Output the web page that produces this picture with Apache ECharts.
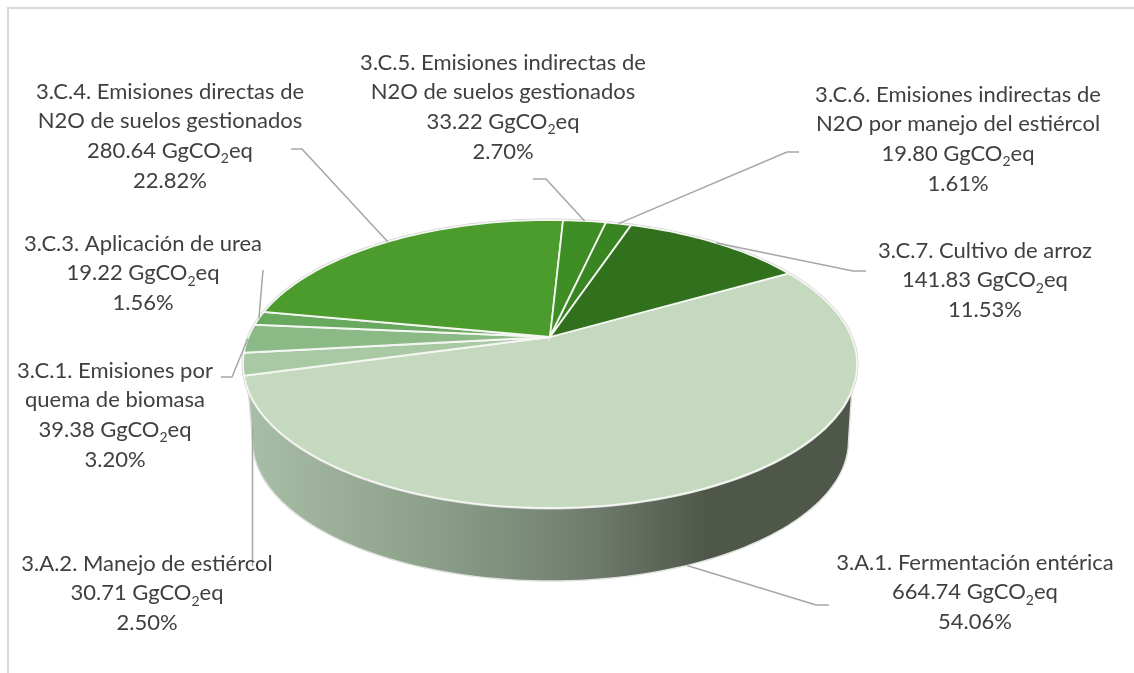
<!DOCTYPE html>
<html>
<head>
<meta charset="utf-8">
<style>html,body{margin:0;padding:0;background:#fff}#main{width:1134px;height:673px}</style>
<script src="https://cdn.jsdelivr.net/npm/echarts@6/dist/echarts.min.js"></script>
</head>
<body>
<div id="main"></div>
<script>
var categories = [
    ['3.A.1. Fermentación entérica'],
    ['3.A.2. Manejo de estiércol'],
    ['3.C.1. Emisiones por', 'quema de biomasa'],
    ['3.C.3. Aplicación de urea'],
    ['3.C.4. Emisiones directas de', 'N2O de suelos gestionados'],
    ['3.C.5. Emisiones indirectas de', 'N2O de suelos gestionados'],
    ['3.C.6. Emisiones indirectas de', 'N2O por manejo del estiércol'],
    ['3.C.7. Cultivo de arroz']
];
var emissions = [664.74, 30.71, 39.38, 19.22, 280.64, 33.22, 19.80, 141.83];
var shares = ['54.06%', '2.50%', '3.20%', '1.56%', '22.82%', '2.70%', '1.61%', '11.53%'];

var colors = ['#c5d9bf', '#a9c8a4', '#8cba86', '#68a85f', '#4b9c2c', '#3f8e25', '#388522', '#31711d'];
// label block: centre x, top y of first line; leader: elbow points from label towards pie
var labelPos = [[975, 548], [147, 549], [115, 356], [143, 229], [170, 77], [503, 48], [958, 80], [985, 236]];
var leaders = [
    [[829, 605], [816, 605]],
    [[252.5, 566]],
    [[221, 377], [232, 377]],
    [[263, 270]],
    [[291, 149], [302, 149]],
    [[533, 179], [546, 179]],
    [[799, 152], [787, 152]],
    [[866, 271], [853, 271]]
];
// anchors on the lower rim for slices whose leader leaves from the wall
var anchorOnBase = [true, true, false, false, false, false, false, false];
var anchorLift = [0, 16, 0, 0, 0, 0, 0, 0];

var START = 60;
var top3d = { cx: 550, cy: 364, rx: 307, ry: 144 };
var base3d = { cx: 550.5, cy: 441, rx: 298, ry: 140 };
var PERSP = 0.1875;
var LINE_H = 29.6;

var total = emissions.reduce(function (a, b) { return a + b; }, 0);

function sliceAngles(i) {
    var before = 0;
    for (var k = 0; k < i; k++) before += emissions[k];
    return [START + before / total * 360, START + (before + emissions[i]) / total * 360];
}

// circle -> perspective ellipse, centre of the pie sits above the middle of the ellipse
function project(e, deg) {
    var r = deg * Math.PI / 180;
    var u = Math.sin(r), v = Math.cos(r);
    var d = 1 + PERSP * v;
    var X = u * Math.sqrt(1 - PERSP * PERSP) / d;
    var Y = (v + PERSP) / d;
    return [e.cx + e.rx * X, e.cy - e.ry * Y];
}

function arc(e, a0, a1) {
    var pts = [], n = Math.max(2, Math.ceil(Math.abs(a1 - a0) / 1.5));
    for (var i = 0; i <= n; i++) pts.push(project(e, a0 + (a1 - a0) * i / n));
    return pts;
}

function renderSlice(params, api) {
    var i = params.dataIndex;
    var ang = sliceAngles(i);
    var children = [];
    if (i === 0) {
        // rim and wall go under all the top faces
        children.push({
            type: 'polygon',
            shape: { points: arc(top3d, 111, 249).concat(arc(base3d, 259, 101)) },
            style: {
                fill: new echarts.graphic.LinearGradient(0, 0, 1, 0, [
                    { offset: 0, color: '#a9bea6' },
                    { offset: 0.35, color: '#879a85' },
                    { offset: 0.55, color: '#727f70' },
                    { offset: 0.76, color: '#4f574a' },
                    { offset: 1, color: '#4f574a' }
                ], false),
                stroke: '#dfe1dd',
                lineWidth: 1.4
            }
        });
        children.push({
            type: 'polygon',
            shape: { points: arc(top3d, 0, 360) },
            style: { fill: 'none', stroke: '#cfcfcf', lineWidth: 3 }
        });
    }
    var apex = [top3d.cx, top3d.cy - top3d.ry * PERSP];
    children.push({
        type: 'polygon',
        shape: { points: [apex].concat(arc(top3d, ang[0], ang[1])) },
        style: { fill: colors[i], stroke: '#f4f6f2', lineWidth: 1.8 }
    });
    return { type: 'group', children: children };
}

function renderLabel(params, api) {
    var i = params.dataIndex;
    var ang = sliceAngles(i);
    var mid = (ang[0] + ang[1]) / 2;
    var anchor = project(anchorOnBase[i] ? base3d : top3d, mid);
    anchor[1] -= anchorLift[i];
    var pos = labelPos[i];
    var lines = categories[i].map(function (s) { return '{n|' + s + '}'; });
    lines.push('{n|' + api.value(0).toFixed(2) + ' GgCO}{s|2}{n|eq}');
    lines.push('{n|' + shares[i] + '}');
    return {
        type: 'group',
        children: [{
            type: 'polyline',
            shape: { points: leaders[i].concat([anchor]) },
            style: { fill: 'none', stroke: '#a6a6a6', lineWidth: 1.5 }
        }, {
            type: 'text',
            style: {
                x: pos[0],
                y: pos[1],
                text: lines.join('\n'),
                align: 'center',
                verticalAlign: 'top',
                rich: {
                    n: { fontFamily: 'Lato', fontSize: 22, lineHeight: LINE_H, fill: '#404040', color: '#404040' },
                    s: { fontFamily: 'Lato', fontSize: 14, lineHeight: LINE_H, fill: '#404040', color: '#404040', verticalAlign: 'bottom', padding: [9, 0, 0, 0] }
                }
            }
        }]
    };
}

var chart = echarts.init(document.getElementById('main'), null, { renderer: 'canvas' });
chart.setOption({
    animation: false,
    backgroundColor: '#fff',
    graphic: [{
        type: 'polyline',
        silent: true,
        shape: { points: [[8, 673], [8, 8], [1134, 8]] },
        style: { fill: 'none', stroke: '#d9d9d9', lineWidth: 2 }
    }],
    series: [{
        type: 'custom',
        coordinateSystem: 'none',
        silent: true,
        z: 2,
        data: emissions,
        renderItem: renderSlice
    }, {
        type: 'custom',
        coordinateSystem: 'none',
        silent: true,
        z: 3,
        data: emissions,
        renderItem: renderLabel
    }]
});
</script>
</body>
</html>
